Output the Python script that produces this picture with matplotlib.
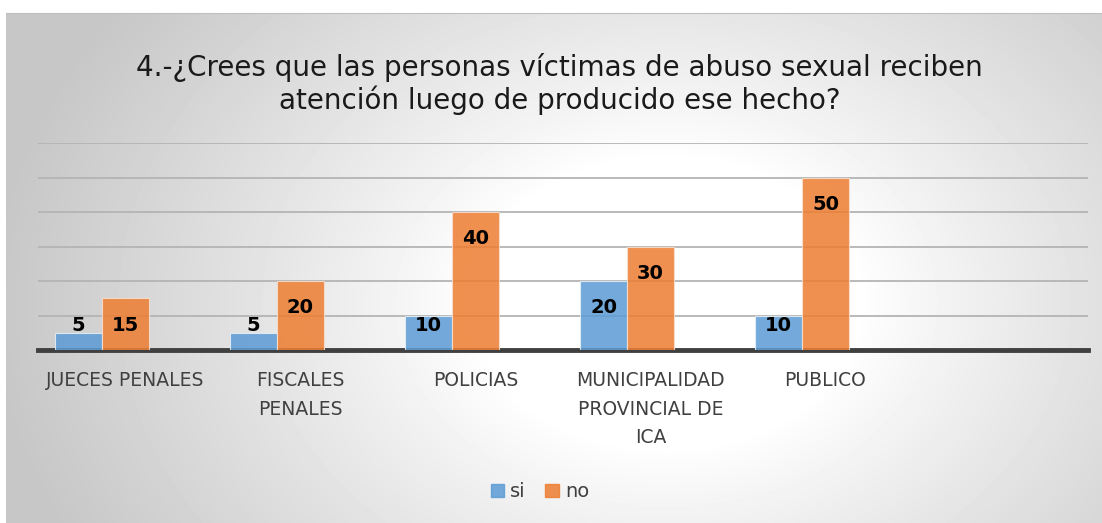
import matplotlib
matplotlib.use("Agg")
import matplotlib.pyplot as plt
import numpy as np

categories = ["JUECES PENALES", "FISCALES\nPENALES", "POLICIAS",
              "MUNICIPALIDAD\nPROVINCIAL DE\nICA", "PUBLICO", ""]
si = [5, 5, 10, 20, 10]
no = [15, 20, 40, 30, 50]
title = "4.-¿Crees que las personas víctimas de abuso sexual reciben\natención luego de producido ese hecho?"

W, H = 1102, 523
fig = plt.figure(figsize=(W / 100, H / 100), dpi=100)
fig.patch.set_facecolor("white")

# radial gray background panel
bg = fig.add_axes([6 / W, 0, 1 - 6 / W, (H - 13) / H])
yy, xx = np.mgrid[0:510, 0:1096]
r = np.sqrt(((xx - 660) / 640.0) ** 2 + ((yy - 290) / 480.0) ** 2)
shade = 1 - 0.22 * np.clip((r - 0.3) / 0.75, 0, 1) ** 0.9
bg.imshow(shade, cmap="gray", vmin=0, vmax=1, aspect="auto", interpolation="bilinear")
bg.set_xticks([])
bg.set_yticks([])
for s in bg.spines.values():
    s.set_visible(False)
bg.spines["top"].set_visible(True)
bg.spines["top"].set_color("#bfbfbf")

ax = fig.add_axes([38 / W, 173 / H, 1050 / W, 207 / H])
ax.set_facecolor("none")
x = np.arange(len(categories))
w = 0.268
ax.bar(x[:len(si)] - w, si, w, color="#5B9BD5", alpha=0.85, edgecolor="#e8f0f8", linewidth=0.8, zorder=3)
ax.bar(x[:len(no)], no, w, color="#ED7D31", alpha=0.85, edgecolor="#f8e0d0", linewidth=0.8, zorder=3)

for xs, vals in ((x[:len(si)] - w, si), (x[:len(no)], no)):
    for xi, v in zip(xs, vals):
        ax.text(xi, max(v - 7.8, 7.2), str(v), ha="center", va="center",
                fontsize=14, fontweight="bold", color="black", zorder=4)

ax.set_xlim(-0.5, len(categories) - 0.5)
ax.set_ylim(0, 60)
ax.set_yticks(np.arange(10, 70, 10))
ax.yaxis.grid(True, color="#b4b4b4", linewidth=1.3, zorder=0)
ax.tick_params(axis="y", left=False, labelleft=False)
ax.set_xticks(x)
ax.set_xticklabels(categories, fontsize=13.5, color="#404040", linespacing=1.65, va="top")
ax.tick_params(axis="x", length=0, pad=15)
for s in ("top", "right", "left"):
    ax.spines[s].set_visible(False)
ax.spines["bottom"].set_color("#404040")
ax.spines["bottom"].set_linewidth(3.5)

fig.text(0.508, 0.84, title, ha="center", va="center", fontsize=20, color="#1a1a1a", linespacing=1.15)

handles = [plt.Rectangle((0, 0), 1, 1, color="#5B9BD5", alpha=0.85),
           plt.Rectangle((0, 0), 1, 1, color="#ED7D31", alpha=0.85)]
fig.legend(handles, ["si", "no"], loc="center", bbox_to_anchor=(0.49, 0.06), ncol=2,
           frameon=False, fontsize=14, handlelength=0.7, handleheight=0.7,
           handletextpad=0.3, columnspacing=1.0, labelcolor="#404040")

fig.savefig("out.png", dpi=100)
